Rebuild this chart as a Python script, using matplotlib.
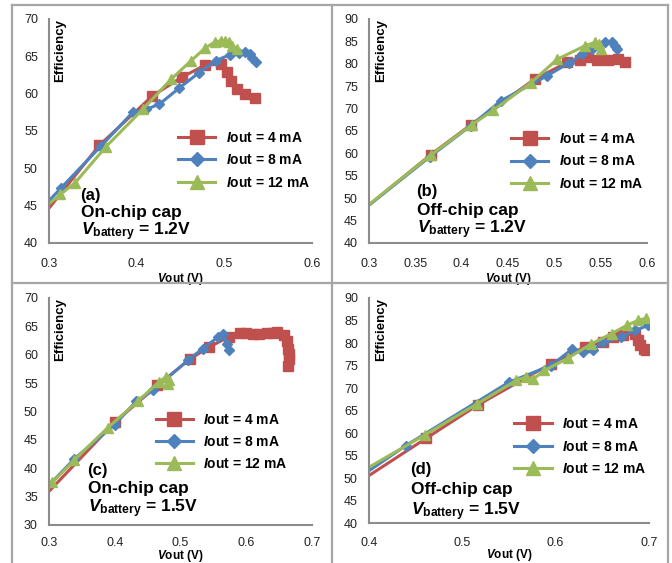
import matplotlib
matplotlib.use("Agg")
import matplotlib.pyplot as plt
from matplotlib.lines import Line2D

plt.rcParams['font.family'] = ['Liberation Sans', 'DejaVu Sans']
plt.rcParams['mathtext.fontset'] = 'custom'
plt.rcParams['mathtext.it'] = 'Liberation Sans:italic:bold'
plt.rcParams['mathtext.rm'] = 'Liberation Sans:bold'

# panel (a) on-chip cap, Vbattery = 1.2V
a_vout_4 = [0.29, 0.3576, 0.418, 0.4515, 0.4777, 0.496, 0.503, 0.508, 0.515, 0.524, 0.535]
a_eff_4 = [43.2, 53.1, 59.7, 62.2, 63.8, 63.95, 62.9, 61.7, 60.6, 59.9, 59.4]
a_vout_8 = [0.29, 0.314, 0.3595, 0.3955, 0.411, 0.426, 0.448, 0.471, 0.49, 0.506, 0.517, 0.524, 0.529, 0.532, 0.536]
a_eff_8 = [44.4, 47.4, 53.0, 57.5, 57.9, 58.6, 60.7, 62.8, 64.4, 65.2, 65.5, 65.6, 65.3, 64.8, 64.2]
a_vout_12 = [0.29, 0.313, 0.330, 0.365, 0.407, 0.439, 0.462, 0.478, 0.489, 0.496, 0.501, 0.505, 0.509, 0.514]
a_eff_12 = [44.3, 46.5, 48.1, 52.9, 57.9, 61.9, 64.4, 66.1, 66.9, 67.1, 67.1, 66.9, 66.4, 66.0]

# panel (b) off-chip cap, Vbattery = 1.2V
b_vout_4 = [0.29, 0.3665, 0.41, 0.479, 0.514, 0.528, 0.536, 0.546, 0.558, 0.569, 0.576]
b_eff_4 = [46.8, 59.7, 66.4, 76.6, 80.3, 80.8, 81.5, 80.8, 80.9, 81.0, 80.4]
b_vout_8 = [0.29, 0.366, 0.41, 0.442, 0.492, 0.516, 0.530, 0.541, 0.555, 0.562, 0.566, 0.568]
b_eff_8 = [46.8, 59.3, 66.2, 71.7, 77.3, 80.2, 82.1, 83.3, 84.8, 84.8, 84.0, 83.3]
b_vout_12 = [0.29, 0.3665, 0.411, 0.434, 0.475, 0.503, 0.533, 0.544, 0.548, 0.55]
b_eff_12 = [46.9, 59.6, 66.4, 69.6, 75.8, 81.0, 84.0, 84.8, 84.4, 83.4]

# panel (c) on-chip cap, Vbattery = 1.5V
c_vout_4 = [0.29, 0.4, 0.465, 0.514, 0.544, 0.573, 0.59, 0.60, 0.611, 0.62, 0.631, 0.64, 0.647,
            0.657, 0.662, 0.664, 0.665, 0.665, 0.664]
c_eff_4 = [34.7, 48.1, 54.6, 59.2, 61.4, 63.1, 63.9, 63.8, 63.7, 63.7, 63.9, 63.9, 64.0,
           63.5, 62.5, 61.1, 60.2, 59.3, 58.1]
c_vout_8 = [0.29, 0.338, 0.4, 0.4325, 0.458, 0.511, 0.534, 0.557, 0.565, 0.570, 0.573]
c_eff_8 = [35.8, 41.6, 47.7, 51.8, 53.7, 59.0, 61.1, 63.1, 63.7, 61.9, 60.8]
c_vout_12 = [0.29, 0.305, 0.338, 0.389, 0.435, 0.467, 0.478, 0.482, 0.481]
c_eff_12 = [35.7, 37.5, 41.4, 47.1, 51.8, 55.2, 56.1, 55.5, 54.9]

# panel (d) off-chip cap, Vbattery = 1.5V
d_vout_4 = [0.39, 0.461, 0.5164, 0.595, 0.631, 0.651, 0.661, 0.672, 0.685, 0.688, 0.690, 0.695, 0.697]
d_eff_4 = [49.2, 58.8, 66.2, 75.4, 79.1, 80.2, 81.3, 81.7, 82.1, 80.6, 79.5, 78.7, 78.4]
d_vout_8 = [0.39, 0.4394, 0.55, 0.595, 0.618, 0.629, 0.640, 0.651, 0.670, 0.685, 0.699]
d_eff_8 = [50.2, 57.2, 71.3, 75.0, 78.7, 78.0, 78.4, 80.2, 81.3, 82.8, 83.9]
d_vout_12 = [0.39, 0.460, 0.516, 0.558, 0.568, 0.576, 0.588, 0.613, 0.638, 0.660, 0.676, 0.688, 0.697]
d_eff_12 = [51.2, 59.6, 66.5, 71.7, 72.4, 72.0, 73.9, 76.6, 79.8, 82.1, 83.9, 85.0, 85.5]

labels = ['$I$out = 4 mA', '$I$out = 8 mA', '$I$out = 12 mA']
panel_tags = ['(a)', '(b)', '(c)', '(d)']
cap_names = ['On-chip cap', 'Off-chip cap', 'On-chip cap', 'Off-chip cap']
vbat_text = ['$V_{\\mathrm{battery}}$ = 1.2V', '$V_{\\mathrm{battery}}$ = 1.2V',
             '$V_{\\mathrm{battery}}$ = 1.5V', '$V_{\\mathrm{battery}}$ = 1.5V']

x_ticks = [[0.3, 0.4, 0.5, 0.6],
           [0.3, 0.35, 0.4, 0.45, 0.5, 0.55, 0.6],
           [0.3, 0.4, 0.5, 0.6, 0.7],
           [0.4, 0.5, 0.6, 0.7]]
x_ticklabels = [['0.3', '0.4', '0.5', '0.6'],
                ['0.3', '0.35', '0.4', '0.45', '0.5', '0.55', '0.6'],
                ['0.3', '0.4', '0.5', '0.6', '0.7'],
                ['0.4', '0.5', '0.6', '0.7']]
y_ranges = [(40, 70), (40, 90), (30, 70), (40, 90)]

series = [
    [(a_vout_4, a_eff_4), (a_vout_8, a_eff_8), (a_vout_12, a_eff_12)],
    [(b_vout_4, b_eff_4), (b_vout_8, b_eff_8), (b_vout_12, b_eff_12)],
    [(c_vout_4, c_eff_4), (c_vout_8, c_eff_8), (c_vout_12, c_eff_12)],
    [(d_vout_4, d_eff_4), (d_vout_8, d_eff_8), (d_vout_12, d_eff_12)],
]

colors = ['#C0504D', '#4F81BD', '#9BBB59']
markers = ['s', 'D', '^']
msizes = [7.5, 5.5, 7.5]

# axes boxes in figure fraction [left, bottom, width, height]
boxes = [[0.0729, 0.5684, 0.3914, 0.3979],
         [0.5491, 0.5684, 0.4137, 0.3979],
         [0.0729, 0.0675, 0.3914, 0.4032],
         [0.5491, 0.0710, 0.4167, 0.3997]]
# where the text blocks and legends sit, axes fraction
text_pos = [(0.118, [0.214, 0.134, 0.049]),
            (0.169, [0.228, 0.143, 0.058]),
            (0.145, [0.242, 0.159, 0.070]),
            (0.146, [0.236, 0.151, 0.049])]
legend_pos = [(0.49, 0.50), (0.51, 0.495), (0.405, 0.495), (0.518, 0.47)]
xlabel_y = [-0.16, -0.16, -0.137, -0.142]
xtick_pad = [11, 11, 9, 10]

fig = plt.figure(figsize=(6.72, 5.63), dpi=100)

for i in range(4):
    ax = fig.add_axes(boxes[i])
    for k in range(3):
        xs, ys = series[i][k]
        ax.plot(xs, ys, color=colors[k], lw=2.2, marker=markers[k], ms=msizes[k],
                mec=colors[k], mfc=colors[k], label=labels[k])
    ax.set_xlim(x_ticks[i][0], x_ticks[i][-1])
    ax.set_ylim(*y_ranges[i])
    ax.set_xticks(x_ticks[i])
    ax.set_xticklabels(x_ticklabels[i])
    ax.set_yticks(range(y_ranges[i][0], y_ranges[i][1] + 1, 5))
    ax.tick_params(length=0, labelsize=9, labelcolor='#222222')
    ax.tick_params(axis='x', pad=xtick_pad[i])
    ax.tick_params(axis='y', pad=8)
    for s in ['top', 'right']:
        ax.spines[s].set_visible(False)
    for s in ['left', 'bottom']:
        ax.spines[s].set_color('#8c8c8c')
        ax.spines[s].set_linewidth(1.5)

    ax.text(0.042, 1.0, 'Efficiency', transform=ax.transAxes, rotation=90,
            ha='center', va='top', fontsize=9.5, fontweight='bold')
    ax.text(0.5, xlabel_y[i], '$V$out (V)', transform=ax.transAxes,
            ha='center', va='center', fontsize=8.5, fontweight='bold')

    tx, tys = text_pos[i]
    ax.text(tx, tys[0], panel_tags[i], transform=ax.transAxes, ha='left', va='center',
            fontsize=12, fontweight='bold')
    ax.text(tx + 0.005, tys[1], cap_names[i], transform=ax.transAxes, ha='left', va='center',
            fontsize=12.5, fontweight='bold')
    ax.text(tx + 0.005, tys[2], vbat_text[i], transform=ax.transAxes, ha='left', va='center',
            fontsize=12.5, fontweight='bold')

    lx, ly = legend_pos[i]
    ax.legend(loc='upper left', bbox_to_anchor=(lx, ly), frameon=False,
              prop={'weight': 'bold', 'size': 10}, handlelength=2.7, handletextpad=0.75,
              labelspacing=0.6, borderpad=0, borderaxespad=0, markerscale=1.35)

# grey frame lines around the four panels
frame = dict(color='#a6a6a6', lw=1.6, transform=fig.transFigure)
fig.add_artist(Line2D([0.018, 0.018], [0.0, 0.991], **frame))
fig.add_artist(Line2D([0.018, 0.994], [0.991, 0.991], **frame))
fig.add_artist(Line2D([0.994, 0.994], [0.0, 0.991], **frame))
fig.add_artist(Line2D([0.494, 0.494], [0.0, 0.991], **frame))
fig.add_artist(Line2D([0.018, 0.994], [0.497, 0.497], **frame))

fig.savefig('out.png', dpi=100)
